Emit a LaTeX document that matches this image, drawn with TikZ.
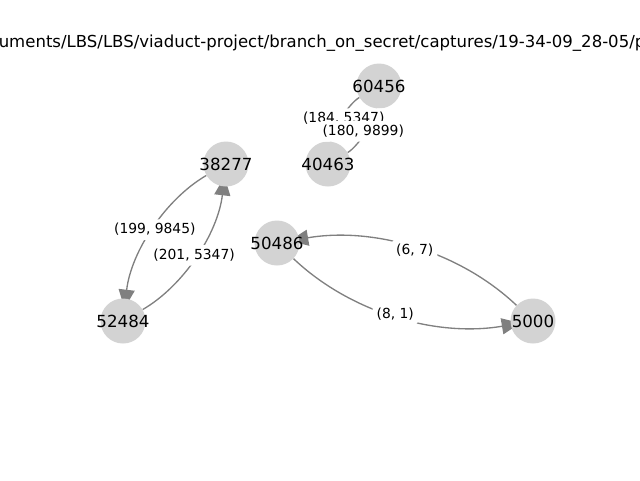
\documentclass[tikz,border=0pt]{standalone}
\usepackage{fontspec}
\setmainfont{DejaVu Sans}
\usetikzlibrary{arrows.meta,calc}
\pgfdeclarelayer{edgelayer}
\pgfsetlayers{edgelayer,main}
\definecolor{nodegray}{HTML}{D3D3D3}
\definecolor{edgegray}{HTML}{808080}
\begin{document}
\begin{tikzpicture}[x=0.75pt,y=-0.75pt,
  vertex/.style={circle,fill=nodegray,inner sep=0pt,minimum size=33.75pt},
  vlabel/.style={font=\fontsize{12.5pt}{15pt}\selectfont},
  link/.style={draw=edgegray,line width=1pt},
  arrowlink/.style={link,-{Triangle[length=14pt,width=12pt]},shorten >=-7.5pt},
  weight/.style={fill=white,rounded corners=2pt,inner sep=3pt,
    font=\fontsize{10.4pt}{12pt}\selectfont}]
\useasboundingbox (0,0) rectangle (640,480);
\clip (0,0) rectangle (640,480);

% title (path of the capture folder)
\node[anchor=base west,inner sep=0pt,font=\fontsize{12.4pt}{15pt}\selectfont] (title) at (-1.5,47)
  {uments/LBS/LBS/viaduct-project/branch\_on\_secret/captures/19-34-09\_28-05/p};

% vertices
\node[vertex,label={[vlabel]center:60456}] (n60456) at (379,86) {};
\node[vertex,label={[vlabel]center:40463}] (n40463) at (328,164) {};
\node[vertex,label={[vlabel]center:38277}] (n38277) at (226,164) {};
\node[vertex,label={[vlabel]center:50486}] (n50486) at (277,243) {};
\node[vertex,label={[vlabel]center:52484}] (n52484) at (123,321) {};
\node[vertex,label={[vlabel]center:5000}]  (n5000)  at (533,321) {};

% curved directed edges, bowing to the right of their direction
\begin{pgfonlayer}{edgelayer}
\draw[link] (n60456) .. controls ($(n60456)!0.3727!-26.57:(n40463)$) and ($(n40463)!0.3727!26.57:(n60456)$) .. (n40463);
\draw[link] (n40463) .. controls ($(n40463)!0.3727!-26.57:(n60456)$) and ($(n60456)!0.3727!26.57:(n40463)$) .. (n60456);
\draw[arrowlink] (n38277) .. controls ($(n38277)!0.3727!-26.57:(n52484)$) and ($(n52484)!0.3727!26.57:(n38277)$) .. (n52484);
\draw[arrowlink] (n52484) .. controls ($(n52484)!0.3727!-26.57:(n38277)$) and ($(n38277)!0.3727!26.57:(n52484)$) .. (n38277);
\draw[arrowlink] (n5000) .. controls ($(n5000)!0.3727!-26.57:(n50486)$) and ($(n50486)!0.3727!26.57:(n5000)$) .. (n50486);
\draw[arrowlink] (n50486) .. controls ($(n50486)!0.3727!-26.57:(n5000)$) and ($(n5000)!0.3727!26.57:(n50486)$) .. (n5000);
\end{pgfonlayer}

% edge weights, at the middle of each arc
\node[weight] (w1) at ($(n60456)!0.5!(n40463)!0.25!-90:(n40463)$) {(184, 5347)};
\node[weight] (w2) at ($(n40463)!0.5!(n60456)!0.25!-90:(n60456)$) {(180, 9899)};
\node[weight] (w3) at ($(n38277)!0.5!(n52484)!0.25!-90:(n52484)$) {(199, 9845)};
\node[weight] (w4) at ($(n52484)!0.5!(n38277)!0.25!-90:(n38277)$) {(201, 5347)};
\node[weight] (w5) at ($(n5000)!0.5!(n50486)!0.25!-90:(n50486)$) {(6, 7)};
\node[weight] (w6) at ($(n50486)!0.5!(n5000)!0.25!-90:(n5000)$) {(8, 1)};
\end{tikzpicture}
\end{document}
